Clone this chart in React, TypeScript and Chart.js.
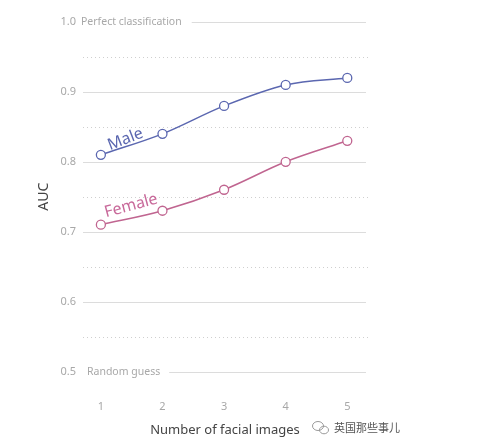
import { useEffect, useRef } from "react";
import { Chart, registerables } from "chart.js";

Chart.register(...registerables);

const imageCounts = [1, 2, 3, 4, 5];
const maleAUC = [0.81, 0.84, 0.88, 0.91, 0.92];
const femaleAUC = [0.71, 0.73, 0.76, 0.8, 0.83];
const solidLevels = [0.6, 0.7, 0.8, 0.9];
const dottedLevels = [0.55, 0.65, 0.75, 0.85, 0.95];
const topLevel = { value: 1.0, label: "Perfect classification" };
const bottomLevel = { value: 0.5, label: "Random guess" };
const seriesLabels = [
  { text: "Male", x: 1.4, y: 0.832, angle: -21, color: "#5b67b0" },
  { text: "Female", x: 1.49, y: 0.737, angle: -15, color: "#c8699a" },
];
const watermark = "英国那些事儿";

const FONT = "'Noto Sans', sans-serif";
const MALE = "#5b67b0";
const FEMALE = "#c06590";

const gridPlugin = {
  id: "customGrid",
  beforeDatasetsDraw(chart: any) {
    const { ctx, chartArea, scales } = chart;
    const y = scales.y;
    const left = chartArea.left;
    const right = chartArea.right;
    ctx.save();
    ctx.lineWidth = 1;
    ctx.strokeStyle = "#dcdcdc";
    solidLevels.forEach((v) => {
      const py = Math.round(y.getPixelForValue(v)) + 0.5;
      ctx.beginPath();
      ctx.moveTo(left, py);
      ctx.lineTo(right - 1, py);
      ctx.stroke();
    });
    ctx.strokeStyle = "#cfcfcf";
    ctx.setLineDash([1, 3]);
    dottedLevels.forEach((v) => {
      const py = Math.round(y.getPixelForValue(v)) + 0.5;
      ctx.beginPath();
      ctx.moveTo(left, py);
      ctx.lineTo(right + 1, py);
      ctx.stroke();
    });
    ctx.setLineDash([]);
    ctx.font = `10.5px ${FONT}`;
    ctx.fillStyle = "#a8a8a8";
    ctx.textBaseline = "middle";
    ctx.textAlign = "left";
    [
      { lv: topLevel, start: left - 2, gap: 10 },
      { lv: bottomLevel, start: left + 4, gap: 9 },
    ].forEach(({ lv, start, gap }) => {
      const py = Math.round(y.getPixelForValue(lv.value)) + 0.5;
      ctx.fillText(lv.label, start, py);
      const w = ctx.measureText(lv.label).width;
      ctx.strokeStyle = "#dcdcdc";
      ctx.beginPath();
      ctx.moveTo(start + w + gap, py);
      ctx.lineTo(right - 1, py);
      ctx.stroke();
    });
    ctx.restore();
  },
  afterDatasetsDraw(chart: any) {
    const { ctx, scales } = chart;
    seriesLabels.forEach((l) => {
      const px = scales.x.getPixelForValue(l.x);
      const py = scales.y.getPixelForValue(l.y);
      ctx.save();
      ctx.translate(px, py);
      ctx.rotate((l.angle * Math.PI) / 180);
      ctx.font = `16px ${FONT}`;
      ctx.fillStyle = l.color;
      ctx.textAlign = "center";
      ctx.textBaseline = "middle";
      ctx.fillText(l.text, 0, 0);
      ctx.restore();
    });
    // watermark
    ctx.save();
    const wx = 320;
    const wy = 428;
    ctx.strokeStyle = "#9a9a9a";
    ctx.lineWidth = 1;
    ctx.beginPath();
    ctx.ellipse(wx - 2, wy - 2, 5.5, 4.5, 0, 0, Math.PI * 2);
    ctx.stroke();
    ctx.beginPath();
    ctx.ellipse(wx + 4, wy + 2, 4.5, 3.8, 0, 0, Math.PI * 2);
    ctx.stroke();
    ctx.font = "11px 'Noto Sans CJK SC', sans-serif";
    ctx.fillStyle = "#555";
    ctx.textAlign = "left";
    ctx.textBaseline = "middle";
    ctx.fillText(watermark, 334, wy);
    ctx.restore();
  },
};

export default function App() {
  const ref = useRef<HTMLCanvasElement>(null);
  useEffect(() => {
    if (!ref.current) return;
    const chart = new Chart(ref.current, {
      type: "line",
      data: {
        datasets: [
          {
            label: "Male",
            data: imageCounts.map((x, i) => ({ x, y: maleAUC[i] })),
            borderColor: MALE,
            backgroundColor: "#ffffff",
            pointBorderColor: MALE,
            pointBackgroundColor: "#ffffff",
            pointRadius: 4.5,
            pointBorderWidth: 1.3,
            borderWidth: 1.5,
            cubicInterpolationMode: "monotone",
          },
          {
            label: "Female",
            data: imageCounts.map((x, i) => ({ x, y: femaleAUC[i] })),
            borderColor: FEMALE,
            backgroundColor: "#ffffff",
            pointBorderColor: FEMALE,
            pointBackgroundColor: "#ffffff",
            pointRadius: 4.5,
            pointBorderWidth: 1.3,
            borderWidth: 1.5,
            cubicInterpolationMode: "monotone",
          },
        ],
      },
      options: {
        animation: false,
        responsive: true,
        maintainAspectRatio: false,
        layout: { padding: { left: 36, right: 118, top: 22, bottom: 0 } },
        plugins: { legend: { display: false }, tooltip: { enabled: false } },
        scales: {
          x: {
            type: "linear",
            min: 0.71,
            max: 5.32,
            afterBuildTicks: (s: any) => {
              s.ticks = imageCounts.map((v) => ({ value: v }));
            },
            afterFit: (s: any) => {
              s.height = 73.5;
            },
            grid: { display: false, drawTicks: false },
            border: { display: false },
            ticks: {
              color: "#a8a8a8",
              font: { family: FONT, size: 11 },
              padding: 29,
              callback: (v: any) => String(v),
            },
            title: {
              display: true,
              text: "Number of facial images",
              color: "#444",
              font: { family: FONT, size: 13 },
              padding: { top: 0, bottom: 7 },
            },
          },
          y: {
            min: 0.5,
            max: 1.0,
            afterBuildTicks: (s: any) => {
              s.ticks = [0.5, 0.6, 0.7, 0.8, 0.9, 1.0].map((v) => ({ value: v }));
            },
            afterFit: (s: any) => {
              s.width = 83 - 36;
            },
            grid: { display: false, drawTicks: false },
            border: { display: false },
            ticks: {
              color: "#a8a8a8",
              font: { family: FONT, size: 11 },
              padding: 7,
              callback: (v: any) => Number(v).toFixed(1),
            },
            title: {
              display: true,
              text: "AUC",
              color: "#444",
              font: { family: FONT, size: 14 },
              padding: { top: 0, bottom: 0 },
            },
          },
        },
      },
      plugins: [gridPlugin],
    } as any);
    return () => chart.destroy();
  }, []);
  return (
    <div style={{ position: "fixed", left: 0, top: 0, width: 485, height: 445, background: "#fff" }}>
      <canvas ref={ref} />
    </div>
  );
}
